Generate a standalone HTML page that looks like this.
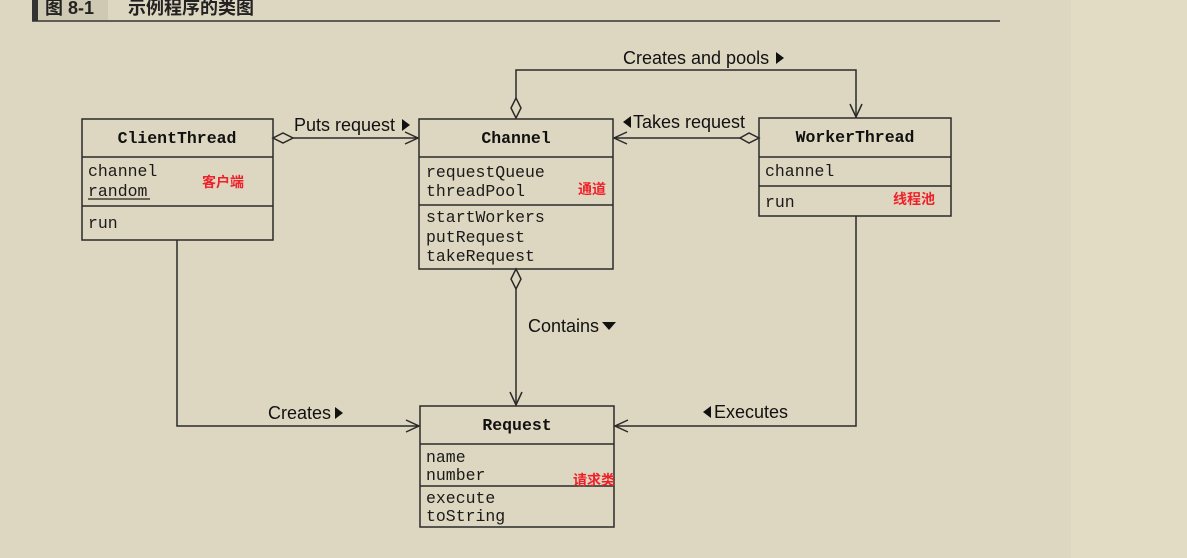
<!DOCTYPE html>
<html><head><meta charset="utf-8">
<style>
html,body{margin:0;padding:0;width:1187px;height:558px;overflow:hidden;background:#ddd6c0;}
svg{display:block}
.m{font-family:"Liberation Mono",monospace;font-size:16.5px;fill:#1a1a1a}
.b{font-family:"Liberation Mono",monospace;font-size:16.5px;font-weight:bold;fill:#111}
.l{font-family:"Liberation Sans",sans-serif;font-size:18px;fill:#111}
.r{font-family:"Liberation Sans","Noto Sans CJK SC",sans-serif;font-size:14px;font-weight:bold;fill:#f0202a}
</style></head><body>
<svg width="1187" height="558" xmlns="http://www.w3.org/2000/svg">
<rect x="1071" y="0" width="116" height="558" fill="#e3dcc5"/>
<rect x="32" y="0" width="6" height="21" fill="#333"/>
<rect x="38" y="0" width="70" height="20" fill="#cfc8b3"/>
<text x="45" y="14" font-family="Liberation Sans,'Noto Sans CJK SC',sans-serif" font-size="18" font-weight="bold" fill="#222">图 8-1</text>
<text x="128" y="14" font-family="Liberation Sans,'Noto Sans CJK SC',sans-serif" font-size="18" font-weight="bold" fill="#222">示例程序的类图</text>
<line x1="32" y1="21" x2="1000" y2="21" stroke="#333" stroke-width="1.5"/>

<g stroke="#2a2a2a" stroke-width="1.5" fill="none">
<rect x="82" y="119" width="191" height="121"/>
<line x1="82" y1="157" x2="273" y2="157"/>
<line x1="82" y1="206" x2="273" y2="206"/>
<rect x="419" y="119" width="194" height="150"/>
<line x1="419" y1="157" x2="613" y2="157"/>
<line x1="419" y1="205" x2="613" y2="205"/>
<rect x="759" y="118" width="192" height="98"/>
<line x1="759" y1="157" x2="951" y2="157"/>
<line x1="759" y1="186" x2="951" y2="186"/>
<rect x="420" y="406" width="194" height="121"/>
<line x1="420" y1="444" x2="614" y2="444"/>
<line x1="420" y1="486" x2="614" y2="486"/>

<line x1="293" y1="138" x2="418" y2="138"/>
<polygon points="273,138 283,133 293,138 283,143" fill="#ddd6c0"/>
<polyline points="405,132 418,138 405,144"/>
<line x1="614" y1="138" x2="740" y2="138"/>
<polygon points="759,138 749,133 740,138 749,143" fill="#ddd6c0"/>
<polyline points="627,132 614,138 627,144"/>
<polyline points="516,98 516,70 856,70 856,117"/>
<polygon points="516,118 511,108 516,98 521,108" fill="#ddd6c0"/>
<polyline points="850,104 856,117 862,104"/>
<line x1="516" y1="289" x2="516" y2="405"/>
<polygon points="516,269 521,279 516,289 511,279" fill="#ddd6c0"/>
<polyline points="510,392 516,405 522,392"/>
<polyline points="177,240 177,426 419,426"/>
<polyline points="406,420 419,426 406,432"/>
<polyline points="856,216 856,426 615,426"/>
<polyline points="628,420 615,426 628,432"/>
</g>

<text class="b" x="177" y="143" text-anchor="middle">ClientThread</text>
<text class="m" x="88" y="176">channel</text>
<text class="m" x="88" y="196">random</text>
<line x1="88" y1="199" x2="150" y2="199" stroke="#222" stroke-width="1.2"/>
<text class="m" x="88" y="228">run</text>
<text class="r" x="202" y="187">客户端</text>

<text class="b" x="516" y="143" text-anchor="middle">Channel</text>
<text class="m" x="426" y="177">requestQueue</text>
<text class="m" x="426" y="196">threadPool</text>
<text class="m" x="426" y="222">startWorkers</text>
<text class="m" x="426" y="242">putRequest</text>
<text class="m" x="426" y="261">takeRequest</text>
<text class="r" x="578" y="194">通道</text>

<text class="b" x="855" y="142" text-anchor="middle">WorkerThread</text>
<text class="m" x="765" y="176">channel</text>
<text class="m" x="765" y="207">run</text>
<text class="r" x="893" y="204">线程池</text>

<text class="b" x="517" y="430" text-anchor="middle">Request</text>
<text class="m" x="426" y="462">name</text>
<text class="m" x="426" y="480">number</text>
<text class="m" x="426" y="503">execute</text>
<text class="m" x="426" y="521">toString</text>
<text class="r" x="573" y="485">请求类</text>

<text class="l" x="294" y="131">Puts request</text>
<polygon points="402,119 410,125 402,131" fill="#111"/>
<polygon points="631,116 623,122 631,128" fill="#111"/>
<text class="l" x="633" y="128">Takes request</text>
<text class="l" x="623" y="64">Creates and pools</text>
<polygon points="776,52 784,58 776,64" fill="#111"/>
<text class="l" x="528" y="332">Contains</text>
<polygon points="602,322 616,322 609,330" fill="#111"/>
<text class="l" x="268" y="419">Creates</text>
<polygon points="335,407 343,413 335,419" fill="#111"/>
<polygon points="711,406 703,412 711,418" fill="#111"/>
<text class="l" x="714" y="418">Executes</text>
</svg>
</body></html>
